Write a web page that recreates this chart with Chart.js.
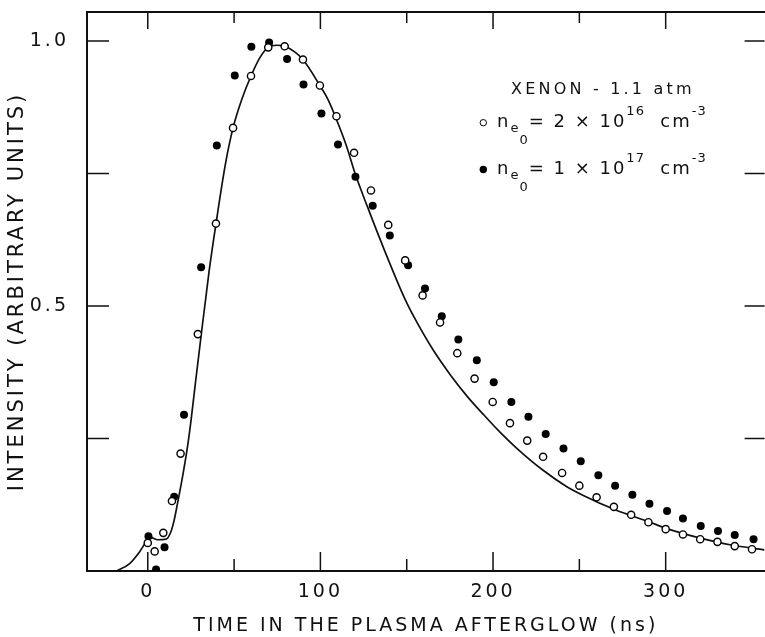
<!DOCTYPE html>
<html>
<head>
<meta charset="utf-8">
<script src="https://cdn.jsdelivr.net/npm/chart.js@4/dist/chart.umd.min.js"></script>
<style>
html,body{margin:0;padding:0;overflow:hidden;background:#fff}
#wrap{width:770px;height:637px;position:relative}
</style>
</head>
<body>
<div id="wrap"><canvas id="c"></canvas></div>
<script>
// ---- data ----
const openT = [0,4,9,14,19,29,39.5,49.4,59.8,69.8,79.3,89.9,99.7,109.3,119.5,129.3,139.3,149.1,159.2,169.3,179.3,189.3,199.8,209.8,219.8,229,240,250,260,270,280,290,300,310,320,330,340,350];
const openV = [0.053,0.037,0.072,0.132,0.2215,0.447,0.6555,0.836,0.934,0.988,0.990,0.965,0.916,0.858,0.789,0.718,0.653,0.586,0.520,0.469,0.411,0.363,0.319,0.279,0.246,0.2155,0.185,0.161,0.139,0.121,0.106,0.092,0.079,0.069,0.060,0.055,0.047,0.041];

const fillT = [0.4,4.8,9.7,15.3,21,30.9,40,50.4,60,70.3,80.7,90.2,100.6,110.2,120.3,130.3,140.2,150.8,160.6,170.3,179.9,190.6,200.4,210.6,220.5,230.5,240.8,250.8,261,270.7,280.7,290.6,300.8,310,320.3,330.3,340,350.9];
const fillV = [0.0655,0.003,0.045,0.140,0.295,0.573,0.803,0.935,0.989,0.997,0.966,0.918,0.863,0.8045,0.744,0.689,0.633,0.577,0.533,0.4806,0.437,0.3975,0.356,0.319,0.291,0.2585,0.231,0.207,0.1806,0.161,0.144,0.127,0.113,0.099,0.085,0.0755,0.068,0.060];

const curveT = [-18,-10.5,-4.8,-0.9,2,5.7,10.6,13.4,15.3,17.2,20.1,23,24.9,27.8,31.3,33.6,35.5,39.5,45.1,49.4,54.6,59.8,65.2,69.8,74.7,79.3,85.3,89.9,99.7,104.5,109.3,115,120.3,127.4,137,149.4,156.1,165.7,175.3,184.9,194.5,204,213.6,229,242.3,252,271.1,290.2,299.8,319,338,357.3];
const curveV = [0,0.014,0.036,0.055,0.063,0.059,0.060,0.074,0.096,0.127,0.177,0.234,0.28,0.36,0.455,0.515,0.565,0.655,0.77,0.836,0.891,0.934,0.970,0.988,0.992,0.990,0.979,0.965,0.916,0.889,0.852,0.803,0.748,0.686,0.606,0.510,0.468,0.415,0.370,0.330,0.295,0.262,0.232,0.190,0.160,0.143,0.115,0.093,0.081,0.063,0.049,0.040];

const xTickValues = [0,50,100,150,200,250,300];
const xTickLabels = ['0','','100','','200','','300'];
const yTickValues = [0,0.25,0.5,0.75,1.0];
const yTickLabels = ['','','0.5','','1.0'];

const xTitle = 'TIME IN THE PLASMA AFTERGLOW (ns)';
const yTitle = 'INTENSITY (ARBITRARY UNITS)';
const legendTitle = 'XENON - 1.1 atm';
const legendOpen = [['n',0],['e',1],['0',2],['= 2 \u00d7 10',0],['16',3],['  cm',0],['-3',3]];
const legendFill = [['n',0],['e',1],['0',2],['= 1 \u00d7 10',0],['17',3],['  cm',0],['-3',3]];

const zip = (a,b) => a.map((v,i)=>({x:v,y:b[i]}));
const FONT = '"DejaVu Sans", "Liberation Sans", sans-serif';
const INK = '#111';

const framePlugin = {
  id: 'frame',
  beforeDraw(chart){ chart.ctx.letterSpacing = '3px'; },
  beforeDatasetsDraw(chart){
    const {ctx, chartArea:a, scales:{x, y}} = chart;
    ctx.save();
    ctx.strokeStyle = INK;
    ctx.lineWidth = 2;
    ctx.beginPath();
    ctx.moveTo(a.right + 5, a.top);
    ctx.lineTo(a.left, a.top);
    ctx.lineTo(a.left, a.bottom);
    ctx.lineTo(a.right + 5, a.bottom);
    ctx.stroke();
    ctx.lineWidth = 1.5;
    ctx.beginPath();
    x.ticks.forEach((t, i) => {
      const px = x.getPixelForValue(t.value);
      const major = xTickLabels[i] !== '';
      ctx.moveTo(px, a.bottom); ctx.lineTo(px, a.bottom - (major ? 19 : 12));
      ctx.moveTo(px, a.top); ctx.lineTo(px, a.top + (major ? 17 : 11));
    });
    y.ticks.forEach(t => {
      const py = y.getPixelForValue(t.value);
      if (t.value === 0) return;
      ctx.moveTo(a.left, py); ctx.lineTo(a.left + 22, py);
      ctx.moveTo(a.right, py); ctx.lineTo(a.right - 20, py);
    });
    ctx.stroke();
    ctx.restore();
  },
  afterDraw(chart){
    const ctx = chart.ctx;
    const dsOpen = chart.data.datasets[0], dsFill = chart.data.datasets[1];
    ctx.save();
    ctx.fillStyle = INK;
    ctx.textAlign = 'left';
    ctx.textBaseline = 'alphabetic';
    ctx.letterSpacing = '3.2px';
    ctx.font = '16px ' + FONT;
    ctx.fillText(legendTitle, 511, 93.5);

    const sizes = [18, 13, 13, 13];
    const dys = [0, 5, 17, -12];
    const spacing = [2, 1, 1, 1];
    const drawRuns = (runs, x0, base) => {
      let x = x0;
      runs.forEach(([t, k]) => {
        ctx.font = sizes[k] + 'px ' + FONT;
        ctx.letterSpacing = spacing[k] + 'px';
        ctx.fillText(t, x, base + dys[k]);
        x += ctx.measureText(t).width;
      });
    };
    // open marker
    ctx.fillStyle = dsOpen.backgroundColor; ctx.strokeStyle = dsOpen.borderColor;
    Chart.helpers.drawPoint(ctx, {pointStyle:'circle', radius:3.2, borderWidth:1.3, rotation:0}, 483.3, 122.7);
    ctx.fillStyle = INK;
    drawRuns(legendOpen, 497, 127);
    // filled marker
    ctx.fillStyle = dsFill.backgroundColor; ctx.strokeStyle = dsFill.backgroundColor;
    Chart.helpers.drawPoint(ctx, {pointStyle:'circle', radius:3.7, borderWidth:0, rotation:0}, 483.3, 169.5);
    ctx.fillStyle = INK;
    drawRuns(legendFill, 497, 174);
    ctx.restore();
  }
};

Chart.defaults.font.family = FONT;
Chart.defaults.color = INK;

new Chart(document.getElementById('c'), {
  type: 'scatter',
  data: {
    datasets: [
      { label: 'n_e0 = 2x10^16 cm^-3', data: zip(openT, openV), showLine: false,
        pointStyle: 'circle', pointRadius: 3.6, pointBackgroundColor: '#fff', backgroundColor: '#fff',
        pointBorderColor: '#000', borderColor: '#000', pointBorderWidth: 1.4, order: 1 },
      { label: 'n_e0 = 1x10^17 cm^-3', data: zip(fillT, fillV), showLine: false,
        pointStyle: 'circle', pointRadius: 4, pointBackgroundColor: '#000', backgroundColor: '#000',
        pointBorderWidth: 0, borderColor: '#000', order: 2 },
      { type: 'line', label: 'theory', data: zip(curveT, curveV), showLine: true,
        borderColor: '#111', borderWidth: 1.7, pointRadius: 0, fill: false,
        cubicInterpolationMode: 'monotone', order: 3 }
    ]
  },
  options: {
    responsive: true,
    maintainAspectRatio: false,
    animation: false,
    events: [],
    layout: { padding: { top: 12, left: 0, right: 0, bottom: 0 } },
    plugins: { legend: { display: false }, tooltip: { enabled: false } },
    scales: {
      x: {
        type: 'linear', position: 'bottom', min: -35.2, max: 357.3,
        grid: { display: false, drawTicks: false },
        border: { display: false },
        afterBuildTicks: s => { s.ticks = xTickValues.map(v => ({ value: v })); },
        afterFit: s => { s.height = 66; s.paddingLeft = 0; s.paddingRight = 0; },
        ticks: { autoSkip: false, maxRotation: 0, padding: 10, font: { size: 19 },
                 callback: (v, i) => xTickLabels[i] },
        title: { display: true, text: xTitle, font: { size: 19 }, padding: { top: 0, bottom: 0 } }
      },
      y: {
        type: 'linear', position: 'left', min: 0, max: 1.0547,
        grid: { display: false, drawTicks: false },
        border: { display: false },
        afterBuildTicks: s => { s.ticks = yTickValues.map(v => ({ value: v })); },
        afterFit: s => { s.width = 87; s.paddingTop = 0; s.paddingBottom = 0; },
        ticks: { autoSkip: false, padding: 18, font: { size: 19 },
                 callback: (v, i) => yTickLabels[i] },
        title: { display: true, text: yTitle, font: { size: 21 }, padding: { top: 5, bottom: 0 } }
      }
    }
  },
  plugins: [framePlugin]
});
</script>
</body>
</html>
